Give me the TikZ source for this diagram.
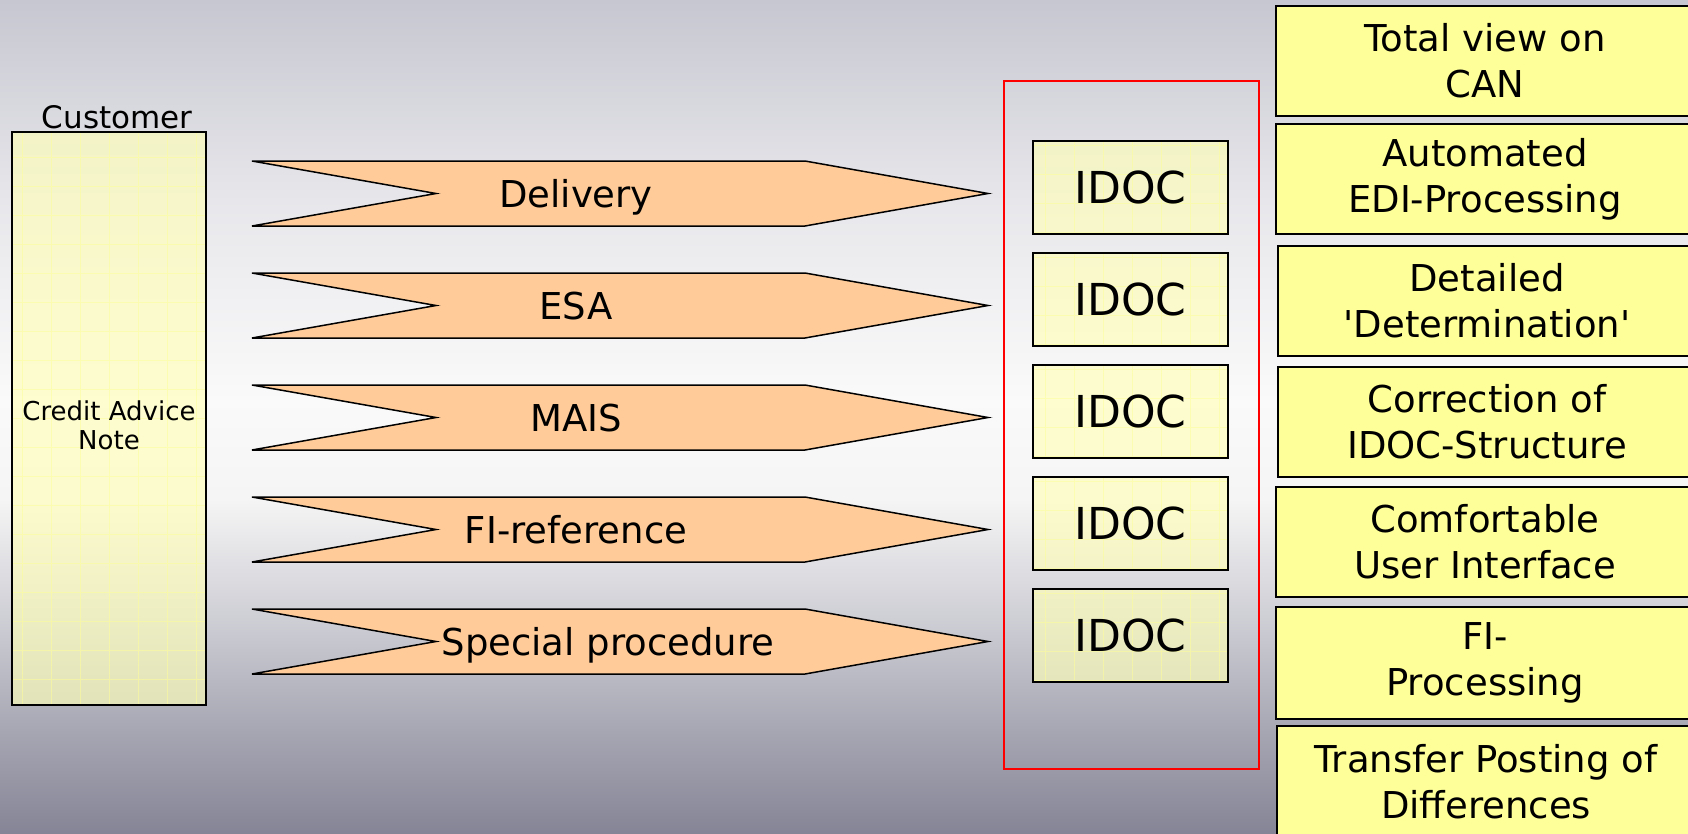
\documentclass[tikz,border=0pt]{standalone}
\usepackage{fontspec}
\setmainfont{DejaVu Sans}
\usetikzlibrary{positioning}
\definecolor{chevfill}{RGB}{255,204,153}
\definecolor{notefill}{RGB}{255,255,153}
\definecolor{paper}{RGB}{255,255,185}
\definecolor{gridline}{RGB}{255,255,150}
\pgfdeclareverticalshading{slidebg}{100bp}{rgb(0bp)=(.52,.52,.59); rgb(25bp)=(.52,.52,.59); rgb(31bp)=(.65,.65,.70); rgb(37.5bp)=(.80,.80,.83); rgb(45bp)=(.96,.96,.96); rgb(51bp)=(.98,.98,.98); rgb(62.5bp)=(.91,.91,.925); rgb(75bp)=(.78,.78,.82); rgb(100bp)=(.78,.78,.82)}
\tikzstyle{paperbox} = [draw,line width=1.5pt,fill=paper,fill opacity=.65,text opacity=1,inner sep=0pt,
  path picture={\draw[gridline,line width=.5pt,opacity=.5] (path picture bounding box.south west) grid[step=29pt] (path picture bounding box.north east);}]
\tikzstyle{idoc} = [paperbox,minimum width=195pt,minimum height=93pt,font=\fontsize{44}{50}\selectfont]
\tikzstyle{benefit} = [draw,line width=1.5pt,fill=notefill,minimum width=418pt,minimum height=110pt,inner sep=0pt,align=center,font=\fontsize{37}{46}\selectfont]
\tikzstyle{chevron} = [draw,line width=1.5pt,fill=chevfill,line join=miter]
\tikzstyle{flowlabel} = [anchor=base,inner sep=0pt,font=\fontsize{37}{44}\selectfont]
\def \hh {32.5}

\begin{document}
\begin{tikzpicture}[x=1pt,y=-1pt]
  \useasboundingbox (0,0) rectangle (1688,833);
  \shade[shading=slidebg] (0,0) rectangle (1688,833);
  % customer side
  \node[paperbox,minimum width=194pt,minimum height=573pt] (can) at (109,418.5) {};
  \node[align=center,inner sep=0pt,font=\fontsize{26}{29}\selectfont] (cantext) at (109,425) {Credit Advice\\Note};
  \node[above=1pt of can,xshift=8pt,inner sep=1pt,font=\fontsize{31}{36}\selectfont] (customer) {Customer};
  % message types
  \foreach \i/\y/\tx/\txt in {1/193.5/576/Delivery,2/305.5/576/ESA,3/417.5/576/MAIS,4/529.5/576/FI-reference,5/641.5/608/Special procedure}{
    \draw[chevron] (252,\y-\hh) -- (805,\y-\hh) -- (988,\y) -- (805,\y+\hh) -- (252,\y+\hh) -- (436,\y) -- cycle;
    \node[flowlabel] (msg\i) at (\tx,\y+14) {\txt};
  }
  % idocs
  \node[draw=red,line width=1.5pt,minimum width=255pt,minimum height=688pt,inner sep=0pt] (frame) at (1131.5,425) {};
  \foreach \i/\y in {1/187.5,2/299.5,3/411.5,4/523.5,5/635.5}
    \node[idoc] (idoc\i) at (1130.5,\y) {IDOC};
  % benefits
  \node[benefit] (ben1) at (1485,61) {Total view on\\CAN};
  \node[benefit] (ben2) at (1485,179) {Automated\\EDI-Processing};
  \node[benefit] (ben3) at (1487,301) {Detailed\\\textquotesingle Determination\textquotesingle};
  \node[benefit] (ben4) at (1487,422) {Correction of\\IDOC-Structure};
  \node[benefit] (ben5) at (1485,542) {Comfortable\\User Interface};
  \node[benefit,minimum height=112pt] (ben6) at (1485,663) {FI-\\Processing};
  \node[benefit,minimum height=112pt] (ben7) at (1486,782) {Transfer Posting of\\Differences};
\end{tikzpicture}
\end{document}
